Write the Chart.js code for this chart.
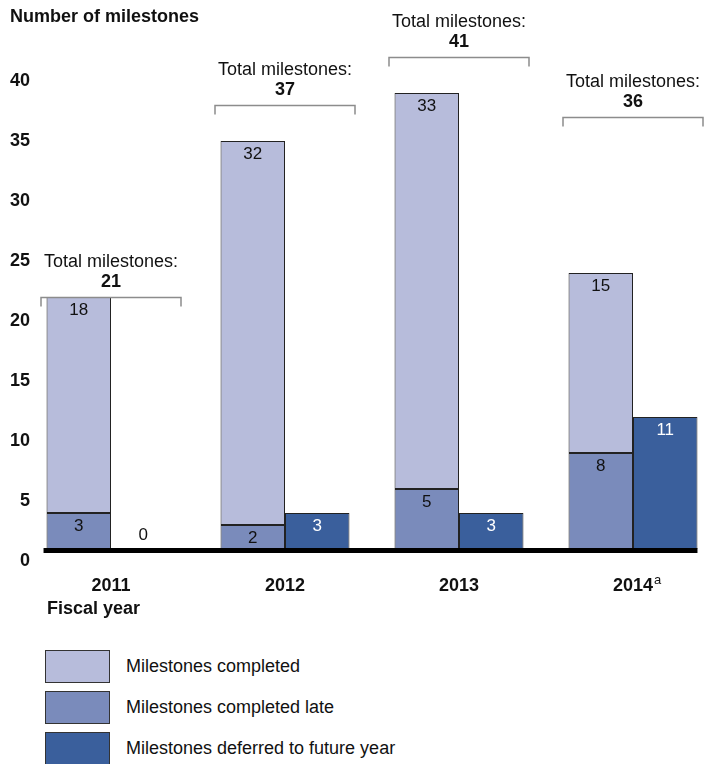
<!DOCTYPE html>
<html>
<head>
<meta charset="utf-8">
<script src="https://cdn.jsdelivr.net/npm/chart.js@4"></script>
<style>
  html, body { margin: 0; padding: 0; background: #fff; overflow: hidden; }
  #wrap { position: relative; width: 720px; height: 764px; }
  #chart { position: absolute; left: 0; top: 0; }
  .legend-row { position: absolute; left: 45px; height: 33px; display: flex; align-items: center;
    font-family: "Liberation Sans", Arial, sans-serif; font-size: 18px; color: #111; }
  .legend-box { width: 65px; height: 33px; box-sizing: border-box; border: 1px solid #333; margin-right: 16px; }
</style>
</head>
<body>
<div id="wrap">
  <canvas id="chart" width="720" height="640" style="width:720px;height:640px"></canvas>
  <div id="legend"></div>
</div>
<script>
const years = ['2011', '2012', '2013', '2014'];
const completed = [18, 32, 33, 15];
const completedLate = [3, 2, 5, 8];
const deferred = [0, 3, 3, 11];
const totals = [21, 37, 41, 36];
const yTickValues = [0, 5, 10, 15, 20, 25, 30, 35, 40];

const seriesNames = ['Milestones completed', 'Milestones completed late', 'Milestones deferred to future year'];
const seriesColors = ['#b7bcdb', '#7a8bbb', '#3a5f9c'];

const FONT = '"Liberation Sans", Arial, sans-serif';

const annotations = {
  id: 'annotations',
  afterDatasetsDraw(chart) {
    const ctx = chart.ctx;
    const xs = chart.scales.x, ys = chart.scales.y;
    const zeroY = ys.getPixelForValue(0);
    ctx.save();

    // numbers inside the bars
    ctx.textAlign = 'center';
    ctx.textBaseline = 'middle';
    ctx.font = '17px ' + FONT;
    chart.data.datasets.forEach((ds, di) => {
      chart.getDatasetMeta(di).data.forEach((bar, i) => {
        const v = ds.data[i];
        const y = v > 0 ? bar.y + 13 : zeroY - 14;
        ctx.fillStyle = v > 0 ? ds.labelColor : '#111';
        ctx.fillText(String(v), bar.x, y);
      });
    });

    // thick base line
    const first = chart.getDatasetMeta(0).data[0];
    const last = chart.getDatasetMeta(2).data[years.length - 1];
    const x0 = first.x - first.width / 2 - 3;
    const x1 = last.x + last.width / 2;
    ctx.fillStyle = '#000';
    ctx.fillRect(x0, zeroY - 1, x1 - x0, 5);

    // total brackets
    totals.forEach((t, i) => {
      const cx = xs.getPixelForValue(i);
      const by = Math.round(ys.getPixelForValue(t)) + 0.5;
      ctx.strokeStyle = '#8c8c8c';
      ctx.lineWidth = 1.5;
      ctx.beginPath();
      ctx.moveTo(cx - 70, by + 9);
      ctx.lineTo(cx - 70, by);
      ctx.lineTo(cx + 70, by);
      ctx.lineTo(cx + 70, by + 9);
      ctx.stroke();
      ctx.fillStyle = '#111';
      ctx.textAlign = 'center';
      ctx.font = '18px ' + FONT;
      ctx.fillText('Total milestones:', cx, by - 35);
      ctx.font = 'bold 18px ' + FONT;
      ctx.fillText(String(t), cx, by - 15);
    });

    // titles
    ctx.textAlign = 'left';
    ctx.font = 'bold 18px ' + FONT;
    ctx.fillText('Number of milestones', 10, 17);
    ctx.fillText('Fiscal year', 47, 609);

    // superscript on the last year
    const w = ctx.measureText(years[years.length - 1]).width;
    ctx.font = '13px ' + FONT;
    ctx.fillText('a', xs.getPixelForValue(years.length - 1) + w / 2 + 1, 580);
    ctx.restore();
  }
};

new Chart(document.getElementById('chart'), {
  type: 'bar',
  data: {
    labels: years,
    datasets: [
      { label: seriesNames[1], data: completedLate, backgroundColor: seriesColors[1], stack: 'a', labelColor: '#111' },
      { label: seriesNames[0], data: completed, backgroundColor: seriesColors[0], stack: 'a', labelColor: '#111' },
      { label: seriesNames[2], data: deferred, backgroundColor: seriesColors[2], stack: 'b', labelColor: '#fff' }
    ]
  },
  options: {
    responsive: false,
    animation: false,
    layout: { padding: { top: 21, left: 0, right: 0, bottom: 0 } },
    datasets: {
      bar: { borderColor: '#222', borderWidth: 1, borderSkipped: false, barPercentage: 1, categoryPercentage: 0.741 }
    },
    plugins: { legend: { display: false }, tooltip: { enabled: false } },
    scales: {
      x: {
        stacked: true,
        grid: { display: false, drawTicks: false },
        border: { display: false },
        ticks: { color: '#111', font: { family: FONT, size: 18, weight: 'bold' }, padding: 26, maxRotation: 0 },
        afterFit(scale) { scale.height = 91; }
      },
      y: {
        stacked: true,
        min: 0,
        max: 44,
        grid: { display: false, drawTicks: false },
        border: { display: false },
        afterBuildTicks(scale) { scale.ticks = yTickValues.map(v => ({ value: v })); },
        ticks: {
          color: '#111', font: { family: FONT, size: 18, weight: 'bold' },
          mirror: true, crossAlign: 'far', padding: -14, labelOffset: 12
        },
        afterFit(scale) { scale.width = 24; }
      }
    }
  },
  plugins: [annotations]
});

const legend = document.getElementById('legend');
seriesNames.forEach((name, i) => {
  const row = document.createElement('div');
  row.className = 'legend-row';
  row.style.top = (650 + i * 41) + 'px';
  const box = document.createElement('div');
  box.className = 'legend-box';
  box.style.background = seriesColors[i];
  row.appendChild(box);
  row.appendChild(document.createTextNode(name));
  legend.appendChild(row);
});
</script>
</body>
</html>
